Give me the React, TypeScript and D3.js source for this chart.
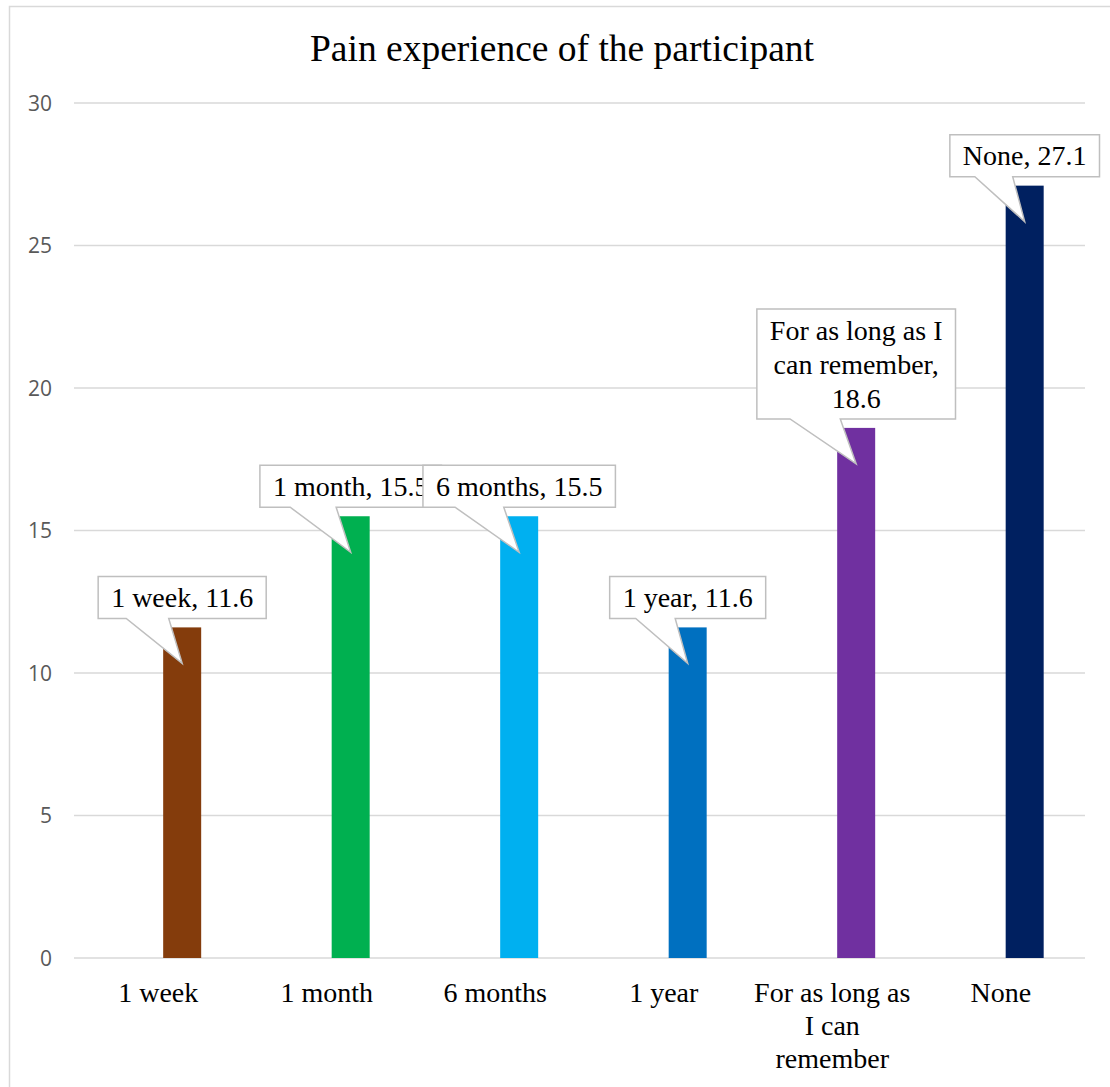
import React from "react";
import * as d3 from "d3";

const categories = ["1 week", "1 month", "6 months", "1 year", "For as long as I can remember", "None"];
const values = [11.6, 15.5, 15.5, 11.6, 18.6, 27.1];
const barColors = ["#843c0c", "#00b050", "#00b0f0", "#0070c0", "#7030a0", "#002060"];
const yTicks = [0, 5, 10, 15, 20, 25, 30];
const title = "Pain experience of the participant";

const W = 1110;
const H = 1087;
const SERIF = "'Liberation Serif', 'Times New Roman', serif";
const SANS = "'Open Sans', 'Liberation Sans', sans-serif";

let ctx: CanvasRenderingContext2D | null = null;
function measure(text: string, font: string): number {
  if (!ctx) ctx = document.createElement("canvas").getContext("2d");
  ctx!.font = font;
  return ctx!.measureText(text).width;
}

function wrap(text: string, font: string, maxW: number): string[] {
  const words = text.split(" ");
  const lines: string[] = [];
  let cur = "";
  for (const w of words) {
    const t = cur ? cur + " " + w : w;
    if (cur && measure(t, font) > maxW) {
      lines.push(cur);
      cur = w;
    } else cur = t;
  }
  if (cur) lines.push(cur);
  return lines;
}

export default function App() {
  const margin = { left: 74, right: 25, top: 103, bottom: 129 };
  const x = d3.scaleBand<string>().domain(categories).range([margin.left, W - margin.right]).padding(0);
  const y = d3.scaleLinear().domain([0, 30]).range([H - margin.bottom, margin.top]);
  const barW = 38;
  const barOffset = x.bandwidth() * 0.142;

  const labelFont = `28px ${SERIF}`;
  const lh = 34;

  return (
    <svg width={W} height={H} style={{ position: "absolute", left: 0, top: 0, background: "#fff" }}>
      <rect x={9.5} y={6.5} width={W + 20} height={H + 20} fill="#fff" stroke="#d9d9d9" strokeWidth={1.5} />
      <text x={562} y={61} textAnchor="middle" fontFamily={SERIF} fontSize={37.5} fill="#000">
        {title}
      </text>

      {yTicks.map((t) => (
        <g key={t}>
          <line x1={margin.left} x2={W - margin.right} y1={y(t)} y2={y(t)} stroke="#d9d9d9" strokeWidth={1.5} />
          <text x={52} y={y(t)} dy="0.36em" textAnchor="end" fontFamily={SANS} fontSize={21} fill="#595959">
            {t}
          </text>
        </g>
      ))}

      {categories.map((c) => {
        const cx = x(c)! + x.bandwidth() / 2;
        const lines = wrap(c, labelFont, 165);
        return (
          <text key={c} textAnchor="middle" fontFamily={SERIF} fontSize={28} fill="#000">
            {lines.map((l, j) => (
              <tspan key={j} x={cx} y={1002 + j * 33}>
                {l}
              </tspan>
            ))}
          </text>
        );
      })}

      {categories.map((c, i) => {
        const bx = x(c)! + x.bandwidth() / 2 + barOffset - barW / 2;
        return <rect key={c} x={bx} y={y(values[i])} width={barW} height={y(0) - y(values[i])} fill={barColors[i]} />;
      })}

      {categories.map((c, i) => {
        const cx = x(c)! + x.bandwidth() / 2 + barOffset;
        const top = y(values[i]);
        const label = `${c}, ${values[i]}`;
        const lines = wrap(label, labelFont, 182);
        const tw = d3.max(lines, (l) => measure(l, labelFont))!;
        const bw = tw + 26;
        const bh = lines.length * lh + 8;
        const x0 = cx - bw / 2;
        const x1 = cx + bw / 2;
        const y1 = top - 9;
        const y0 = y1 - bh;
        const p0 = x0 + bw * 0.167;
        const p1 = x0 + bw * 0.42;
        const tipY = top + 36;
        const path = `M${x0},${y0}H${x1}V${y1}H${p1}L${cx},${tipY}L${p0},${y1}H${x0}Z`;
        return (
          <g key={c}>
            <path d={path} fill="#fff" stroke="#bfbfbf" strokeWidth={1.5} />
            <text textAnchor="middle" fontFamily={SERIF} fontSize={28} fill="#000">
              {lines.map((l, j) => (
                <tspan key={j} x={cx} y={y0 + 4 + lh / 2 + j * lh} dy="0.35em">
                  {l}
                </tspan>
              ))}
            </text>
          </g>
        );
      })}
    </svg>
  );
}
